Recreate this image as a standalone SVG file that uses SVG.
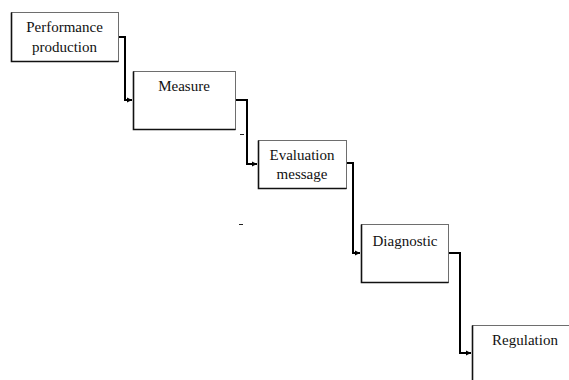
<svg xmlns="http://www.w3.org/2000/svg" width="569" height="380" viewBox="0 0 569 380">
<style>
.box{fill:#fff;stroke:#6e6e6e;stroke-width:1}
.edge{fill:none;stroke:#111;stroke-width:1.6}
.lbl{font-family:"Liberation Serif","Times New Roman",serif;font-size:15px;fill:#111;text-anchor:middle}
.con{fill:none;stroke:#000;stroke-width:2}
.tick{stroke:#222;stroke-width:1}
</style>
<defs>
<marker id="arr" markerWidth="6" markerHeight="6" refX="5" refY="3" orient="auto" markerUnits="userSpaceOnUse">
<path d="M0,0.5 L5,3 L0,5.5 Z" fill="#000"/>
</marker>
</defs>
<rect width="569" height="380" fill="#fff"/>
<g id="connectors">
<polyline class="con" points="118,37 125,37 125,100 132,100" marker-end="url(#arr)"/>
<polyline class="con" points="235,100 247,100 247,164 257,164" marker-end="url(#arr)"/>
<polyline class="con" points="346,163 353,163 353,253 360,253" marker-end="url(#arr)"/>
<polyline class="con" points="448,253 460,253 460,353 471,353" marker-end="url(#arr)"/>
</g>
<g id="performance-production">
<rect class="box" x="11.5" y="12.5" width="107" height="49"/>
<polyline class="edge" points="11.5,12.5 11.5,61.5 118.5,61.5"/>
<text class="lbl" x="64.5" y="32">Performance</text>
<text class="lbl" x="64.5" y="52">production</text>
</g>
<g id="measure">
<rect class="box" x="133.5" y="71.5" width="102" height="58"/>
<polyline class="edge" points="133.5,71.5 133.5,129.5 235.5,129.5"/>
<text class="lbl" x="184" y="91">Measure</text>
</g>
<g id="evaluation-message">
<rect class="box" x="258.5" y="140.5" width="88" height="48"/>
<polyline class="edge" points="258.5,140.5 258.5,188.5 346.5,188.5"/>
<text class="lbl" x="302" y="160">Evaluation</text>
<text class="lbl" x="302" y="179">message</text>
</g>
<g id="diagnostic">
<rect class="box" x="361.5" y="224.5" width="87" height="58"/>
<polyline class="edge" points="361.5,224.5 361.5,282.5 448.5,282.5"/>
<text class="lbl" x="405" y="246">Diagnostic</text>
</g>
<g id="regulation">
<rect class="box" x="472.5" y="325.5" width="110" height="70"/>
<polyline class="edge" points="472.5,325.5 472.5,381"/>
<text class="lbl" x="525" y="345">Regulation</text>
</g>
<line class="tick" x1="240" y1="134.5" x2="244" y2="134.5"/>
<line class="tick" x1="239" y1="224.5" x2="243" y2="224.5"/>
</svg>
